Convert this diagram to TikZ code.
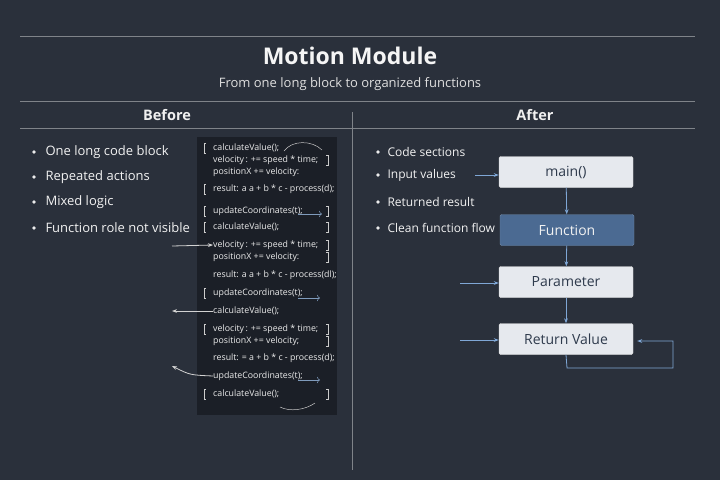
\documentclass[tikz,border=0pt]{standalone}
\usetikzlibrary{arrows.meta}
\usepackage{fontspec}
\setmainfont{Open Sans}
\begin{document}
\begin{tikzpicture}[x=1pt,y=-1pt,
  rule/.style={draw=white!40!bgc,line width=0.6pt},
  bul/.style={anchor=west,font=\fontsize{13}{15}\selectfont,text=white!90!gray},
  code/.style={anchor=west,font=\fontsize{8.8}{10}\selectfont,text=white!85!gray,inner sep=0},
  fbox/.style={draw=white!70!gray,fill=boxc,rounded corners=1.5pt,minimum width=134pt,minimum height=31pt,font=\fontsize{14}{16}\selectfont,text=boxt},
  arr/.style={draw=arrc,line width=0.8pt,-{Stealth[length=5pt]}}]
\definecolor{bgc}{HTML}{2A303B}
\definecolor{panel}{HTML}{1B1F27}
\definecolor{arrc}{HTML}{7FA7D6}
\definecolor{fnc}{HTML}{4B6A92}
\definecolor{boxc}{HTML}{E6E9EE}
\definecolor{boxt}{HTML}{2E3A4C}
\fill[bgc] (0,0) rectangle (720,480);
\useasboundingbox (0,0) rectangle (720,480);
\draw[rule] (20,36) -- (695,36);
\draw[rule] (20,101) -- (695,101);
\draw[rule] (20,128) -- (695,128);
\draw[rule] (352,112) -- (352,470);
\node[font=\bfseries\fontsize{23}{26}\selectfont,text=white!92!gray] (title) at (350,56) {Motion Module};
\node[font=\fontsize{13}{15}\selectfont,text=white!75!gray] (sub) at (350,84) {From one long block to organized functions};
\node[font=\bfseries\fontsize{14.5}{17}\selectfont,text=white!88!gray] (hb) at (167,115) {Before};
\node[font=\bfseries\fontsize{14.5}{17}\selectfont,text=white!88!gray] (ha) at (535,115) {After};
% left bullets
\foreach \y/\t [count=\i] in {152/One long code block,177/Repeated actions,202/Mixed logic,228/Function role not visible}{
  \fill[white!85!gray] (34,\y) circle (1.8pt);
  \node[bul] (lb\i) at (42,\y) {\t};}
% code panel
\fill[panel] (197,137) rectangle (337,415);
\foreach \y/\t [count=\i] in {
 148/calculateValue();,160/{velocity\,: += speed * time;},172/positionX += velocity:,
 189/result: a a + b * c - process(d);,211/updateCoordinates(t);,227/calculateValue();,
 245/{velocity\,: += speed * time;},257/positionX += velocity:,275/result: a a + b * c - process(dl);,
 293/updateCoordinates(t);,311/calculateValue();,329/{velocity\,: += speed * time;},
 341/positionX += velocity;,358/result: = a + b * c - process(d);,376/updateCoordinates(t);,394/calculateValue();}{
  \node[code] (c\i) at (213,\y) {\t};}
\foreach \y in {148,189,211,227,293,329,394}{
  \draw[white!60!gray,line width=0.5pt] (206,\y-5) -- (204,\y-5) -- (204,\y+5) -- (206,\y+5);}
\foreach \y in {160,211,227,245,257,329,341,394}{
  \draw[white!60!gray,line width=0.5pt] (326,\y-5) -- (328,\y-5) -- (328,\y+5) -- (326,\y+5);}
\draw[arrc!70!gray,line width=0.6pt,->] (298,214) -- (322,214);
\draw[arrc!70!gray,line width=0.6pt,->] (298,298) -- (320,298);
\draw[arrc!70!gray,line width=0.6pt,->] (298,380) -- (320,380);
\draw[white!55!gray,line width=0.5pt] (284,151) .. controls (292,140) and (312,140) .. (322,150);
\draw[white!55!gray,line width=0.5pt] (280,407) .. controls (290,412) and (305,410) .. (315,403);
% left arrows
\coordinate (la1) at (172,246);
\draw[white!65!gray,line width=0.8pt,-{Stealth[length=5pt]}] (la1) -- (c7.west);
\coordinate (la2) at (172,311);
\draw[white!65!gray,line width=0.8pt,-{Stealth[length=5pt]}] (c11.west) -- (la2);
\coordinate (la3) at (172,366);
\draw[white!65!gray,line width=0.8pt,-{Stealth[length=5pt]}] (c15.west) .. controls (190,375) .. (la3);
% right bullets
\foreach \y/\t [count=\i] in {152/Code sections,175/Input values,202/Returned result,228/Clean function flow}{
  \fill[white!85!gray] (378,\y) circle (1.8pt);
  \node[bul,font=\fontsize{12}{14}\selectfont] (rb\i) at (384,\y) {\t};}
% boxes
\node[fbox] (main) at (566,172) {main()};
\node[fbox,fill=fnc,draw=fnc!80!white,text=white!90!gray] (fn) at (567,230) {Function};
\node[fbox] (par) at (566,282) {Parameter};
\node[fbox] (ret) at (566,339) {Return Value};
\draw[arr] (main) -- (fn);
\draw[arr] (fn) -- (par);
\draw[arr] (par) -- (ret);
\coordinate (in1) at (475,175);
\draw[arr] (in1) -- (main.west|-in1);
\coordinate (in2) at (460,283);
\draw[arr] (in2) -- (par.west|-in2);
\coordinate (in3) at (460,340);
\draw[arr] (in3) -- (ret.west|-in3);
\coordinate (lp1) at (567,368);
\coordinate (lp2) at (673,368);
\coordinate (lp3) at (673,341);
\draw[arr] (ret.south) -- (lp1) -- (lp2) -- (lp3) -- ([xshift=4pt]ret.east|-lp3);
\end{tikzpicture}
\end{document}
